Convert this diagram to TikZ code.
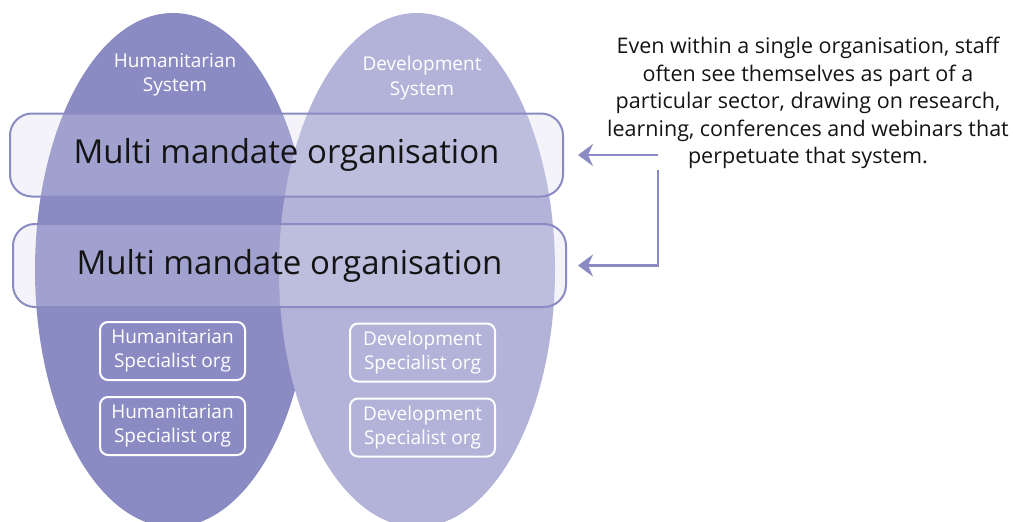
\documentclass[tikz,border=0pt]{standalone}
\usepackage{fontspec}
\setmainfont{Open Sans}
\usetikzlibrary{arrows.meta, positioning, shapes.geometric}

\definecolor{humpurple}{RGB}{139,139,196}
\definecolor{devpurple}{RGB}{179,179,217}
\definecolor{boxtint}{RGB}{215,215,235}
\definecolor{inktext}{RGB}{20,20,20}

\begin{document}
\begin{tikzpicture}[
    x=1pt, y=-1pt,
    system/.style={ellipse, minimum width=276pt, minimum height=514pt, inner sep=0pt},
    syslabel/.style={text=white, align=center, font=\fontsize{19}{24.5}\selectfont},
    mandate/.style={draw=humpurple, line width=2pt, rounded corners=22pt, fill=boxtint,
        fill opacity=0.3, text opacity=1, text=inktext, minimum width=553pt, minimum height=83pt,
        font=\fontsize{33}{38}\selectfont},
    specialist/.style={draw=white, line width=2pt, rounded corners=8pt, text=white, align=center,
        minimum width=145pt, minimum height=58pt, inner sep=0pt, font=\fontsize{19}{24.5}\selectfont},
    note/.style={align=center, text=inktext, font=\fontsize{21.5}{27.5}\selectfont},
    pointer/.style={draw=humpurple, line width=2.5pt, -{Stealth[length=15pt, width=22pt, inset=5pt]}}
]
    \useasboundingbox (0,0) rectangle (1013,522);
    \clip (0,0) rectangle (1013,522);

    \node[system, fill=humpurple] (hum) at (173,270) {};
    \node[system, fill=devpurple] (dev) at (417,270) {};

    \node[syslabel] (humlabel) at (175,75) {Humanitarian\\System};
    \node[syslabel] (devlabel) at (422,78) {Development\\System};

    \node[mandate] (multi1) at (286.5,155) {Multi mandate organisation};
    \node[mandate] (multi2) at (289.5,265.5) {Multi mandate organisation};

    \node[specialist] (hum1) at (172.5,351) {Humanitarian\\Specialist org};
    \node[specialist, below=15pt of hum1] (hum2) {Humanitarian\\Specialist org};
    \node[specialist] (dev1) at (422.5,352.5) {Development\\Specialist org};
    \node[specialist, below=15pt of dev1] (dev2) {Development\\Specialist org};

    \node[note] (note) at (808,103) {Even within a single organisation, staff\\often see themselves as part of a\\particular sector, drawing on research,\\learning, conferences and webinars that\\perpetuate that system.};

    \coordinate (split) at (658,155);
    \coordinate (drop) at (658,170);

    \draw[pointer, shorten >=14pt] (split) -- (multi1.east);
    \draw[pointer, shorten >=11pt] (drop) |- (multi2.east);
\end{tikzpicture}
\end{document}
